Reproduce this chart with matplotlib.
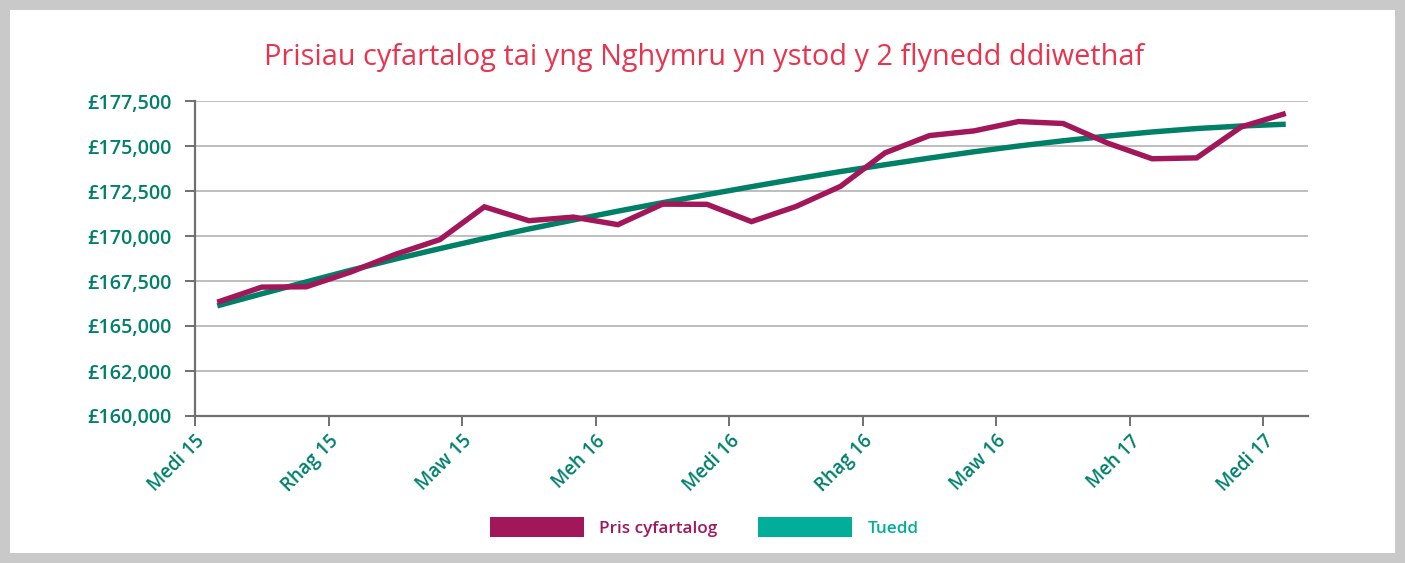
import matplotlib
matplotlib.use("Agg")
import matplotlib.pyplot as plt
from matplotlib.patches import Patch, Rectangle
import numpy as np

# Colours
PURPLE = "#a1175a"
GREEN_LINE = "#008066"
GREEN_KEY = "#00ae99"
TEXT_GREEN = "#00806b"
TITLE_RED = "#e8344f"

plt.rcParams["font.family"] = ["Open Sans", "DejaVu Sans"]

# Data (monthly, Medi 15 .. Medi 17)
title = "Prisiau cyfartalog tai yng Nghymru yn ystod y 2 flynedd ddiwethaf"
series_names = ["Pris cyfartalog", "Tuedd"]
avg_price = [166320, 167160, 167180, 168000, 168980, 169800, 171620, 170850,
             171050, 170630, 171770, 171760, 170800, 171640, 172760, 174620,
             175580, 175840, 176360, 176250, 175160, 174290, 174340, 176060,
             176810]
trend = [166120, 166790, 167450, 168100, 168720, 169300, 169860, 170390,
         170890, 171380, 171850, 172300, 172740, 173170, 173580, 173960,
         174330, 174680, 175000, 175290, 175550, 175780, 175970, 176110,
         176210]
x_labels = ["Medi 15", "Rhag 15", "Maw 15", "Meh 16", "Medi 16",
            "Rhag 16", "Maw 16", "Meh 17", "Medi 17"]
y_ticks = [160000, 162500, 165000, 167500, 170000, 172500, 175000, 177500]
y_labels = ["£160,000", "£162,000", "£165,000", "£167,500", "£170,000",
            "£172,500", "£175,000", "£177,500"]

fig = plt.figure(figsize=(14.05, 5.63), dpi=100, facecolor="#c9c9c9")
# white panel inside the grey frame
fig.patches.append(Rectangle((10 / 1405, 10 / 563), 1385 / 1405, 543 / 563,
                             transform=fig.transFigure, facecolor="white",
                             edgecolor="none", zorder=-10))

ax = fig.add_axes([195 / 1405, 1 - 416 / 563, 1113 / 1405, 315 / 563])
ax.set_facecolor("none")
ax.set_zorder(1)

x = np.arange(len(avg_price)) + 0.5
ax.plot(x, trend, color=GREEN_LINE, lw=3.9, solid_capstyle="butt", zorder=3)
ax.plot(x, avg_price, color=PURPLE, lw=3.9, solid_capstyle="butt",
        solid_joinstyle="miter", zorder=4)

ax.set_xlim(0, len(avg_price))
ax.set_ylim(y_ticks[0], y_ticks[-1])
ax.set_yticks(y_ticks)
ax.set_yticklabels(y_labels, fontweight="semibold")
ax.set_xticks(np.arange(0, len(avg_price), 3))
ax.set_xticklabels(x_labels, rotation=45, ha="right", rotation_mode="anchor",
                   fontweight="semibold")

ax.grid(axis="y", color="#b3b3b3", lw=1.2)
ax.set_axisbelow(True)
for s in ["top", "right"]:
    ax.spines[s].set_visible(False)
for s in ["left", "bottom"]:
    ax.spines[s].set_color("#707070")
    ax.spines[s].set_linewidth(1.6)
ax.tick_params(axis="both", colors="#707070", width=1.4, length=7,
               labelcolor=TEXT_GREEN)
ax.tick_params(axis="y", pad=10, labelsize=14.2)
ax.tick_params(axis="x", pad=4, labelsize=13.5)

fig.text(704 / 1405, 1 - 57 / 563, title, color=TITLE_RED, fontsize=20.8,
         ha="center", va="center")

handles = [Patch(facecolor=PURPLE), Patch(facecolor=GREEN_KEY)]
leg = fig.legend(handles, series_names, loc="center", ncol=2, frameon=False,
                 bbox_to_anchor=(704 / 1405, 1 - 527 / 563), fontsize=12.3,
                 handlelength=5.5, handleheight=1.5, handletextpad=0.9,
                 columnspacing=2.4)
for txt, c in zip(leg.get_texts(), [PURPLE, GREEN_KEY]):
    txt.set_color(c)
    txt.set_fontweight("semibold")

fig.savefig("out.png", dpi=100, facecolor=fig.get_facecolor())
